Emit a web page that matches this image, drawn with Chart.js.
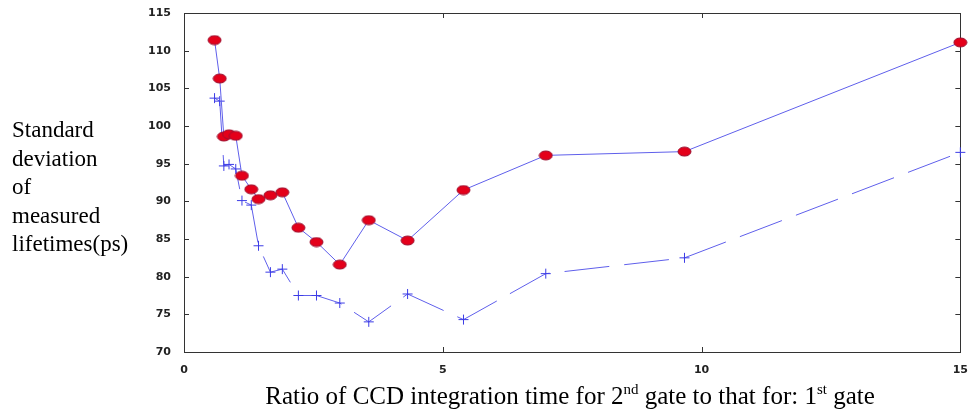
<!DOCTYPE html>
<html>
<head>
<meta charset="utf-8">
<script src="https://cdn.jsdelivr.net/npm/chart.js@4/dist/chart.umd.min.js"></script>
<style>
  html,body{margin:0;padding:0;background:#fff;}
  canvas{display:block;}
</style>
</head>
<body>
<canvas id="c" width="972" height="411"></canvas>
<script>
// values
const ratio = [0.59, 0.69, 0.77, 0.87, 1.00, 1.12, 1.30, 1.44, 1.67, 1.90, 2.21, 2.56, 3.01, 3.57, 4.32, 5.40, 6.99, 9.67, 15.0];
const sdCircles = [111.4, 106.3, 98.6, 98.9, 98.7, 93.4, 91.6, 90.3, 90.8, 91.2, 86.5, 84.6, 81.6, 87.5, 84.8, 91.5, 96.1, 96.6, 111.1];
const sdCrosses = [103.7, 103.3, 94.7, 94.9, 94.3, 90.1, 89.5, 84.1, 80.6, 81.0, 77.5, 77.5, 76.5, 74.0, 77.7, 74.3, 80.4, 82.5, 96.5];
const xTicks = [0, 5, 10, 15];
const yTicks = [70, 75, 80, 85, 90, 95, 100, 105, 110, 115];
const yTitle = ['Standard', 'deviation', 'of', 'measured', 'lifetimes(ps)'];
const xTitle = [['Ratio of CCD integration time for 2', 0], ['nd', 1], [' gate to that for: 1', 0], ['st', 1], [' gate', 0]];

function pairs(xs, ys){ return xs.map((x,i)=>({x:x, y:ys[i]})); }

// red ellipse marker
var ell = document.createElement('canvas');
ell.width = 15; ell.height = 11;
(function(){
  var g = ell.getContext('2d');
  g.beginPath(); g.ellipse(7.5,5.5,6.5,4.5,0,0,Math.PI*2);
  g.fillStyle = '#e4001a'; g.fill();
  g.lineWidth = 1; g.strokeStyle = '#9a1030'; g.stroke();
})();

var serif = '"Liberation Serif", "Times New Roman", serif';
var tickFont = {family:'"DejaVu Sans", Arial, sans-serif', size:11, weight:'bold'};

var frame = {
  id:'frame',
  beforeDatasetsDraw:function(chart){
    var ctx = chart.ctx, a = chart.chartArea, x = chart.scales.x, y = chart.scales.y;
    ctx.save();
    ctx.strokeStyle = '#333'; ctx.lineWidth = 1;
    ctx.strokeRect(Math.round(a.left)+0.5, Math.round(a.top)+0.5, Math.round(a.right-a.left), Math.round(a.bottom-a.top));
    ctx.beginPath();
    yTicks.forEach(function(v){
      var p = Math.round(y.getPixelForValue(v))+0.5;
      ctx.moveTo(a.left, p); ctx.lineTo(a.left+5, p);
      ctx.moveTo(a.right, p); ctx.lineTo(a.right-5, p);
    });
    xTicks.forEach(function(v){
      var p = Math.round(x.getPixelForValue(v))+0.5;
      ctx.moveTo(p, a.bottom); ctx.lineTo(p, a.bottom-5);
      ctx.moveTo(p, a.top); ctx.lineTo(p, a.top+5);
    });
    ctx.stroke();
    ctx.restore();
  },
  afterDraw:function(chart){
    var ctx = chart.ctx;
    ctx.save();
    ctx.fillStyle = '#000';
    ctx.textBaseline = 'alphabetic';
    ctx.font = '23px ' + serif;
    ctx.textAlign = 'left';
    yTitle.forEach(function(t,i){ ctx.fillText(t, 12, 137 + i*28.5); });
    // x title with superscripts
    var parts = xTitle.map(function(p){
      ctx.font = (p[1] ? '15px ' : '25px ') + serif;
      return {t:p[0], sup:p[1], w:ctx.measureText(p[0]).width};
    });
    var total = parts.reduce(function(s,p){ return s+p.w; }, 0);
    var cx = 570 - total/2, base = 404;
    parts.forEach(function(p){
      ctx.font = (p.sup ? '15px ' : '25px ') + serif;
      ctx.fillText(p.t, cx, p.sup ? base-10 : base);
      cx += p.w;
    });
    ctx.restore();
  }
};

new Chart(document.getElementById('c'), {
  type:'line',
  data:{ datasets:[
    { label:'circles', data:pairs(ratio, sdCircles), borderColor:'rgb(95,95,235)', borderWidth:1,
      pointStyle:ell, pointRadius:6, fill:false, tension:0 },
    { label:'crosses', data:pairs(ratio, sdCrosses), borderColor:'rgb(95,95,235)', borderWidth:1,
      borderDash:[45,15], pointStyle:'cross', pointRadius:5, pointBorderColor:'rgb(60,60,230)',
      pointBorderWidth:1, fill:false, tension:0 }
  ]},
  options:{
    responsive:false, animation:false,
    layout:{ padding:{ top:13, right:8, left:0, bottom:0 } },
    plugins:{ legend:{display:false}, tooltip:{enabled:false} },
    datasets:{ line:{ clip:false } },
    scales:{
      x:{ type:'linear', min:0, max:15,
        afterBuildTicks:function(s){ s.ticks = xTicks.map(v=>({value:v})); },
        afterFit:function(s){ s.height = 59; },
        grid:{display:false}, border:{display:false},
        ticks:{ padding:4, color:'#222', maxRotation:0, font:tickFont } },
      y:{ min:70, max:115,
        afterBuildTicks:function(s){ s.ticks = yTicks.map(v=>({value:v})); },
        afterFit:function(s){ s.width = 184; },
        grid:{display:false}, border:{display:false},
        ticks:{ padding:5, color:'#222', font:tickFont } }
    }
  },
  plugins:[frame]
});
</script>
</body>
</html>
